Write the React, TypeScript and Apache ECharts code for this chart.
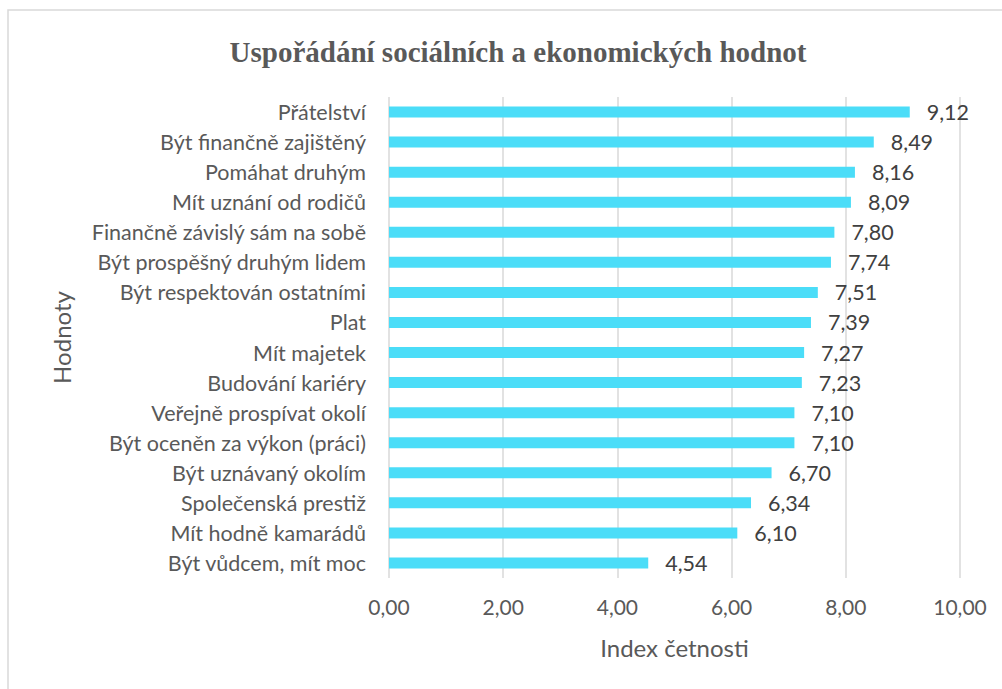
import React, { useEffect, useRef } from "react";
import * as echarts from "echarts";

const categories = [
  "Přátelství",
  "Být finančně zajištěný",
  "Pomáhat druhým",
  "Mít uznání od rodičů",
  "Finančně závislý sám na sobě",
  "Být prospěšný druhým lidem",
  "Být respektován ostatními",
  "Plat",
  "Mít majetek",
  "Budování kariéry",
  "Veřejně prospívat okolí",
  "Být oceněn za výkon (práci)",
  "Být uznávaný okolím",
  "Společenská prestiž",
  "Mít hodně kamarádů",
  "Být vůdcem, mít moc",
];
const values = [9.12, 8.49, 8.16, 8.09, 7.8, 7.74, 7.51, 7.39, 7.27, 7.23, 7.1, 7.1, 6.7, 6.34, 6.1, 4.54];
const xTicks = { min: 0, max: 10, interval: 2 };
const titleText = "Uspořádání sociálních a ekonomických hodnot";
const xName = "Index četnosti";
const yName = "Hodnoty";

const fmt = (v: number) => v.toFixed(2).replace(".", ",");

export default function App() {
  const ref = useRef<HTMLDivElement>(null);
  useEffect(() => {
    if (!ref.current) return;
    const chart = echarts.init(ref.current, undefined, { renderer: "svg" });
    const font = "Lato, 'Liberation Sans', sans-serif";
    chart.setOption({
      animation: false,
      backgroundColor: "#ffffff",
      title: {
        text: titleText,
        left: 513,
        textAlign: "center",
        top: 32,
        textStyle: {
          fontFamily: "'Liberation Serif', 'Times New Roman', serif",
          fontWeight: "bold",
          fontSize: 29,
          color: "#595959",
        },
      },
      graphic: [
        {
          type: "rect",
          shape: { x: 8, y: 10, width: 1100, height: 800 },
          style: { fill: "none", stroke: "#d9d9d9", lineWidth: 1.5 },
          silent: true,
        },
      ],
      grid: { left: 389, right: 42, top: 97, bottom: 111, containLabel: false },
      xAxis: {
        type: "value",
        min: xTicks.min,
        max: xTicks.max,
        interval: xTicks.interval,
        axisLine: { show: false },
        axisTick: { show: false },
        splitLine: { show: true, lineStyle: { color: "#d9d9d9", width: 1.5 } },
        axisLabel: {
          formatter: (v: number) => fmt(v),
          fontFamily: font,
          fontSize: 21,
          color: "#595959",
          margin: 18,
        },
        name: xName,
        nameLocation: "middle",
        nameGap: 57,
        nameTextStyle: { fontFamily: font, fontSize: 24, color: "#595959" },
      },
      yAxis: {
        type: "category",
        inverse: true,
        data: categories,
        axisLine: { show: false },
        axisTick: { show: false },
        splitLine: { show: false },
        axisLabel: {
          fontFamily: font,
          fontSize: 21.5,
          color: "#595959",
          margin: 23,
        },
        name: yName,
        nameLocation: "middle",
        nameRotate: 90,
        nameGap: 316,
        nameTextStyle: { fontFamily: font, fontSize: 24, color: "#595959" },
      },
      series: [
        {
          type: "bar",
          data: values,
          barWidth: 11,
          itemStyle: { color: "#4BDDF8" },
          label: {
            show: true,
            position: "right",
            distance: 17,
            formatter: (p: any) => fmt(p.value),
            fontFamily: font,
            fontSize: 21.5,
            color: "#404040",
          },
        },
      ],
    });
    return () => chart.dispose();
  }, []);
  return (
    <div
      ref={ref}
      style={{ position: "absolute", left: 0, top: 0, width: 1002, height: 689 }}
    />
  );
}
